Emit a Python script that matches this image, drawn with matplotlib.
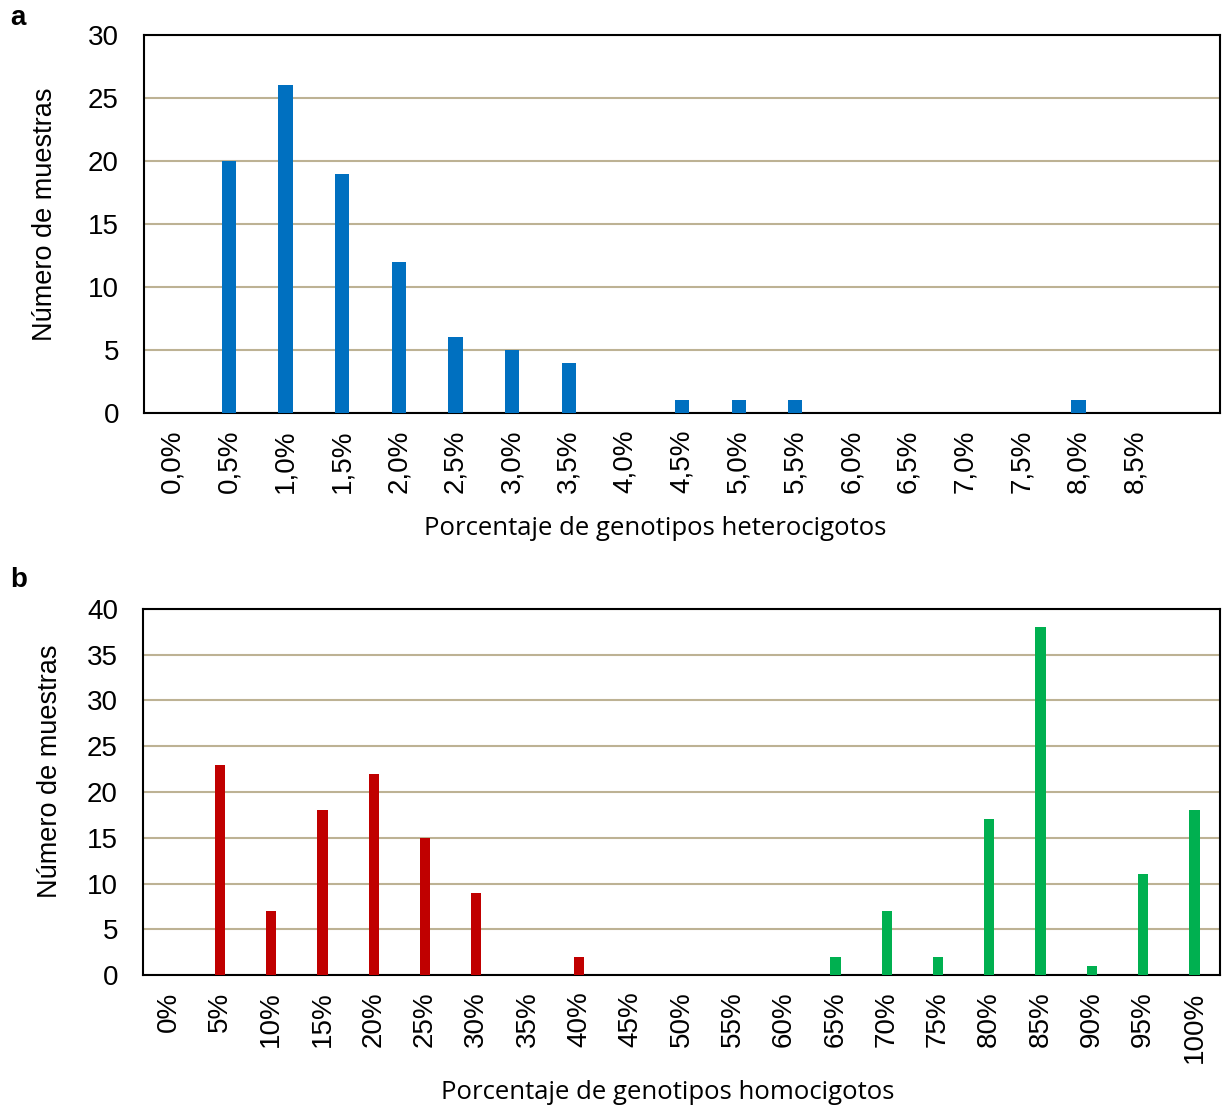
import numpy as np
import matplotlib.pyplot as plt

plt.rcParams['font.family'] = ['Liberation Sans', 'DejaVu Sans']

# (a) heterozygous genotype percentage
het_labels = ['0,0%', '0,5%', '1,0%', '1,5%', '2,0%', '2,5%', '3,0%', '3,5%', '4,0%',
              '4,5%', '5,0%', '5,5%', '6,0%', '6,5%', '7,0%', '7,5%', '8,0%', '8,5%', '']
het_counts = [0, 20, 26, 19, 12, 6, 5, 4, 0, 1, 1, 1, 0, 0, 0, 0, 1, 0, 0]

# (b) homozygous genotype percentage
hom_labels = ['0%', '5%', '10%', '15%', '20%', '25%', '30%', '35%', '40%', '45%', '50%',
              '55%', '60%', '65%', '70%', '75%', '80%', '85%', '90%', '95%', '100%']
hom_counts = [0, 23, 7, 18, 22, 15, 9, 0, 2, 0, 0, 0, 0, 2, 7, 2, 17, 38, 1, 11, 18]
hom_group = ['low'] * 13 + ['high'] * 8

grid_color = '#BDB294'
blue = '#0070C0'
red = '#C00000'
green = '#00B050'

fig = plt.figure(figsize=(12.22, 11.08), dpi=100)
ax_a = fig.add_axes([0.1178, 0.6273, 0.8806, 0.3411])
ax_b = fig.add_axes([0.1170, 0.1200, 0.8814, 0.3304])


def style_axes(ax, ymax, step, labels, xlabel, ylab_pos, xlab_pos):
    ax.set_ylim(0, ymax)
    ax.set_xlim(-0.5, len(labels) - 0.5)
    ax.set_yticks(np.arange(0, ymax + 1, step))
    ax.set_xticks(np.arange(len(labels)))
    ax.set_xticklabels(labels, rotation=90, fontsize=20)
    ax.tick_params(axis='y', labelsize=20, length=0, pad=18)
    ax.tick_params(axis='x', length=0, pad=12)
    ax.yaxis.grid(True, color=grid_color, linewidth=1.5)
    ax.set_axisbelow(True)
    for s in ax.spines.values():
        s.set_linewidth(1.5)
        s.set_color('black')
    ax.set_ylabel('Número de muestras', fontsize=19.5)
    ax.yaxis.set_label_coords(*ylab_pos)
    ax.yaxis.label.set_va('center')
    ax.set_xlabel(xlabel, fontsize=18.5, family=['Open Sans', 'DejaVu Sans'])
    ax.xaxis.set_label_coords(*xlab_pos)
    ax.xaxis.label.set_va('center')


x_a = np.arange(len(het_counts))
ax_a.bar(x_a, het_counts, width=0.25, color=blue, zorder=3)
style_axes(ax_a, 30, 5, het_labels, 'Porcentaje de genotipos heterocigotos',
           (-0.092, 0.526), (0.475, -0.307))

x_b = np.arange(len(hom_counts))
colors_b = [red if g == 'low' else green for g in hom_group]
ax_b.bar(x_b, hom_counts, width=0.2, color=colors_b, zorder=3)
style_axes(ax_b, 40, 5, hom_labels, 'Porcentaje de genotipos homocigotos',
           (-0.0864, 0.557), (0.4875, -0.322))

fig.text(0.008, 0.972, 'a', fontsize=20, fontweight='bold', va='bottom')
fig.text(0.008, 0.465, 'b', fontsize=20, fontweight='bold', va='bottom')

fig.savefig('out.png', dpi=100)
